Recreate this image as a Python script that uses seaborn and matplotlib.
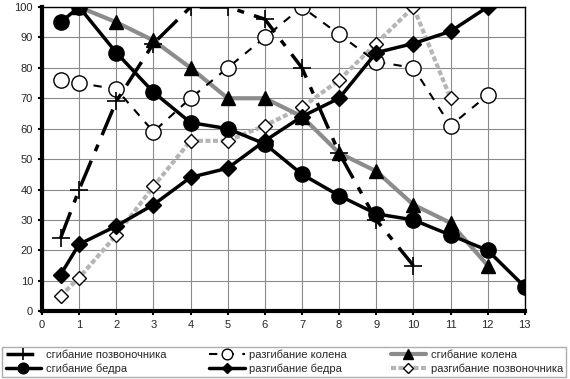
import pandas as pd
import numpy as np
import matplotlib
matplotlib.use("Agg")
import matplotlib.pyplot as plt
import seaborn as sns

# values
spine_flex_x = [0.5, 1, 2, 3, 4, 5, 6, 7, 8, 9, 10]
spine_flex_y = [24, 40, 69, 88, 100, 100, 96, 80, 52, 30, 15]

knee_ext_x = [0.5, 1, 2, 3, 4, 5, 6, 7, 8, 9, 10, 11, 12]
knee_ext_y = [76, 75, 73, 59, 70, 80, 90, 100, 91, 82, 80, 61, 71]

knee_flex_x = [1, 2, 3, 4, 5, 6, 7, 8, 9, 10, 11, 12]
knee_flex_y = [100, 95, 89, 80, 70, 70, 64, 52, 46, 35, 29, 15]

hip_flex_x = [0.5, 1, 2, 3, 4, 5, 6, 7, 8, 9, 10, 11, 12, 13]
hip_flex_y = [95, 100, 85, 72, 62, 60, 55, 45, 38, 32, 30, 25, 20, 8]

hip_ext_x = [0.5, 1, 2, 3, 4, 5, 6, 7, 8, 9, 10, 11, 12]
hip_ext_y = [12, 22, 28, 35, 44, 47, 56, 64, 70, 85, 88, 92, 100]

spine_ext_x = [0.5, 1, 2, 3, 4, 5, 6, 7, 8, 9, 10, 11]
spine_ext_y = [5, 11, 25, 41, 56, 56, 61, 67, 76, 88, 100, 70]

names = ["сгибание позвоночника", "разгибание колена", "сгибание колена",
         "сгибание бедра", "разгибание бедра", "разгибание позвоночника"]

sns.set_style("white")
plt.rcParams['font.family'] = ['Liberation Sans', 'DejaVu Sans']

fig = plt.figure(figsize=(5.7, 3.79), dpi=100)
ax = fig.add_axes([0.0737, 0.179, 0.847, 0.8025])

def draw(x, y, name, **kw):
    sns.lineplot(x=x, y=y, ax=ax, label=name, sort=False, **kw)

# draw order: light lines first
draw(spine_ext_x, spine_ext_y, names[5], color="#b5b5b5", linewidth=3,
     linestyle=(0, (1.2, 0.6)), marker="D", markersize=7,
     markerfacecolor="white", markeredgecolor="black", markeredgewidth=1)
draw(knee_flex_x, knee_flex_y, names[2], color="#8c8c8c", linewidth=3,
     marker="^", markersize=10, markerfacecolor="black",
     markeredgecolor="black", markeredgewidth=1)
draw(knee_ext_x, knee_ext_y, names[1], color="black", linewidth=1.5,
     linestyle=(0, (4, 4)), marker="o", markersize=11,
     markerfacecolor="white", markeredgecolor="black", markeredgewidth=1)
draw(hip_flex_x, hip_flex_y, names[3], color="black", linewidth=2.5,
     marker="o", markersize=11, markerfacecolor="black",
     markeredgecolor="black", markeredgewidth=1)
draw(hip_ext_x, hip_ext_y, names[4], color="black", linewidth=2.5,
     marker="D", markersize=8, markerfacecolor="black",
     markeredgecolor="black", markeredgewidth=1)
draw(spine_flex_x, spine_flex_y, names[0], color="black", linewidth=2.5,
     linestyle=(0, (8, 3, 2, 3)), marker="+", markersize=13,
     markeredgecolor="black", markeredgewidth=1.2)

ax.set_xlim(0, 13)
ax.set_ylim(0, 100)
ax.set_xticks(range(0, 14))
ax.set_yticks(range(0, 101, 10))
ax.grid(True, color="#8a8a8a", linewidth=0.8)
ax.set_axisbelow(True)
for side in ["left", "bottom"]:
    ax.spines[side].set_linewidth(3)
    ax.spines[side].set_color("black")
for side in ["top", "right"]:
    ax.spines[side].set_linewidth(1)
    ax.spines[side].set_color("black")
ax.tick_params(axis="both", labelsize=8, length=3, width=1.5,
               direction="out", color="black", left=True, bottom=True)
ax.set_xlabel("")
ax.set_ylabel("")

# legend: row-wise order in 3 columns
handles, labels = ax.get_legend_handles_labels()
lookup = dict(zip(labels, handles))
order = [names[0], names[3], names[1], names[4], names[2], names[5]]
ax.get_legend().remove()
leg = fig.legend([lookup[n] for n in order], order, ncol=3,
                 loc="lower left", bbox_to_anchor=(0.004, 0.004),
                 fontsize=8, frameon=True, fancybox=False,
                 edgecolor="#999999", handlelength=3.2, handletextpad=0.4,
                 borderaxespad=0, borderpad=0.3, labelspacing=0.3,
                 columnspacing=3.9, markerscale=0.7)
leg.get_frame().set_linewidth(1)

fig.savefig("out.png", dpi=100)
